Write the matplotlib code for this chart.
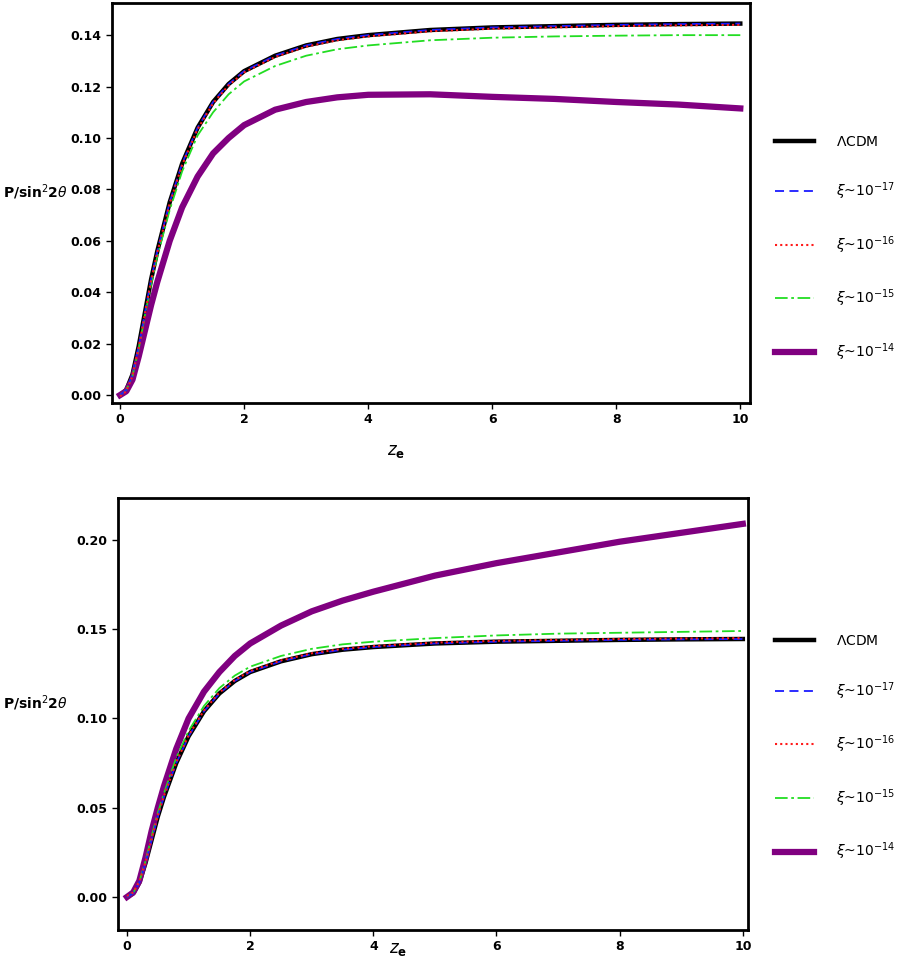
import matplotlib
matplotlib.use("Agg")
import matplotlib.pyplot as plt

z = [0, 0.1, 0.2, 0.3, 0.4, 0.5, 0.6, 0.8, 1.0, 1.25, 1.5, 1.75, 2, 2.5, 3, 3.5, 4, 5, 6, 7, 8, 9, 10]
top_lcdm = [0, 0.002, 0.008, 0.019, 0.032, 0.045, 0.056, 0.075, 0.090, 0.104, 0.114, 0.121, 0.126, 0.132, 0.136, 0.1385, 0.140, 0.142, 0.143, 0.1435, 0.144, 0.1443, 0.1445]
top_17 = top_lcdm
top_16 = [v - 0.0005 for v in top_lcdm]
top_15 = [0, 0.002, 0.0075, 0.018, 0.031, 0.043, 0.054, 0.072, 0.087, 0.101, 0.110, 0.117, 0.122, 0.128, 0.132, 0.1345, 0.136, 0.138, 0.139, 0.1395, 0.1398, 0.140, 0.140]
top_14 = [0, 0.0015, 0.006, 0.015, 0.025, 0.035, 0.044, 0.060, 0.073, 0.085, 0.094, 0.100, 0.105, 0.111, 0.114, 0.1158, 0.1168, 0.117, 0.116, 0.1152, 0.114, 0.113, 0.1115]

bot_lcdm = top_lcdm
bot_17 = top_lcdm
bot_16 = [v + 0.0005 for v in top_lcdm]
bot_15 = [0, 0.0022, 0.0085, 0.020, 0.034, 0.047, 0.058, 0.078, 0.093, 0.107, 0.117, 0.124, 0.129, 0.135, 0.139, 0.1415, 0.143, 0.145, 0.1465, 0.1475, 0.148, 0.1485, 0.149]
bot_14 = [0, 0.0025, 0.009, 0.022, 0.037, 0.050, 0.062, 0.083, 0.100, 0.115, 0.126, 0.135, 0.142, 0.152, 0.160, 0.166, 0.171, 0.180, 0.187, 0.193, 0.199, 0.204, 0.209]

labels = [r"$\Lambda$CDM", r"$\xi$~10$^{-17}$", r"$\xi$~10$^{-16}$", r"$\xi$~10$^{-15}$", r"$\xi$~10$^{-14}$"]
styles = [dict(color="black", lw=3.2, ls="-"),
          dict(color="#1a1aff", lw=1.3, ls=(0, (5, 3))),
          dict(color="#ff1a1a", lw=1.5, ls=(0, (1, 1.5))),
          dict(color="#22dd22", lw=1.3, ls=(0, (7, 2, 1.5, 2))),
          dict(color="#800080", lw=4.5, ls="-")]

fig = plt.figure(figsize=(9.13, 9.61), dpi=100)

def panel(rect, series, xlim, ylim, yticks, legy, xlaby, ylaby):
    ax = fig.add_axes(rect)
    hs = [None]*5
    for i in [0, 4, 3, 1, 2]:
        hs[i], = ax.plot(z, series[i], **styles[i])
    ax.set_xlim(*xlim); ax.set_ylim(*ylim)
    ax.set_xticks([0, 2, 4, 6, 8, 10])
    ax.set_yticks(yticks)
    ax.set_yticklabels(["%.2f" % v for v in yticks])
    for s in ax.spines.values():
        s.set_linewidth(2)
    ax.tick_params(labelsize=9, width=1, length=4)
    for t in ax.get_xticklabels() + ax.get_yticklabels():
        t.set_fontweight("bold")
    fig.text(rect[0] + rect[2] * 0.445, xlaby, r"$\mathbf{\mathit{z}_e}$", fontsize=12, ha="center", va="center")
    fig.text(0.003, ylaby, r"P/sin$^2$2$\theta$", fontsize=10, fontweight="bold", ha="left", va="center")
    fig.legend(hs, labels, loc="upper left", bbox_to_anchor=(0.835, legy), frameon=False,
               fontsize=10, labelspacing=2.3, handlelength=2.8, handletextpad=1.6)
    return ax

panel([0.1227, 0.5806, 0.699, 0.416],
      [top_lcdm, top_17, top_16, top_15, top_14],
      (-0.13, 10.16), (-0.0031, 0.1524),
      [0, 0.02, 0.04, 0.06, 0.08, 0.10, 0.12, 0.14], 0.873, 0.531, 0.80)
panel([0.129, 0.0323, 0.690, 0.4495],
      [bot_lcdm, bot_17, bot_16, bot_15, bot_14],
      (-0.15, 10.08), (-0.0185, 0.2235),
      [0, 0.05, 0.10, 0.15, 0.20], 0.353, 0.012, 0.268)

fig.savefig("out.png", dpi=100)
